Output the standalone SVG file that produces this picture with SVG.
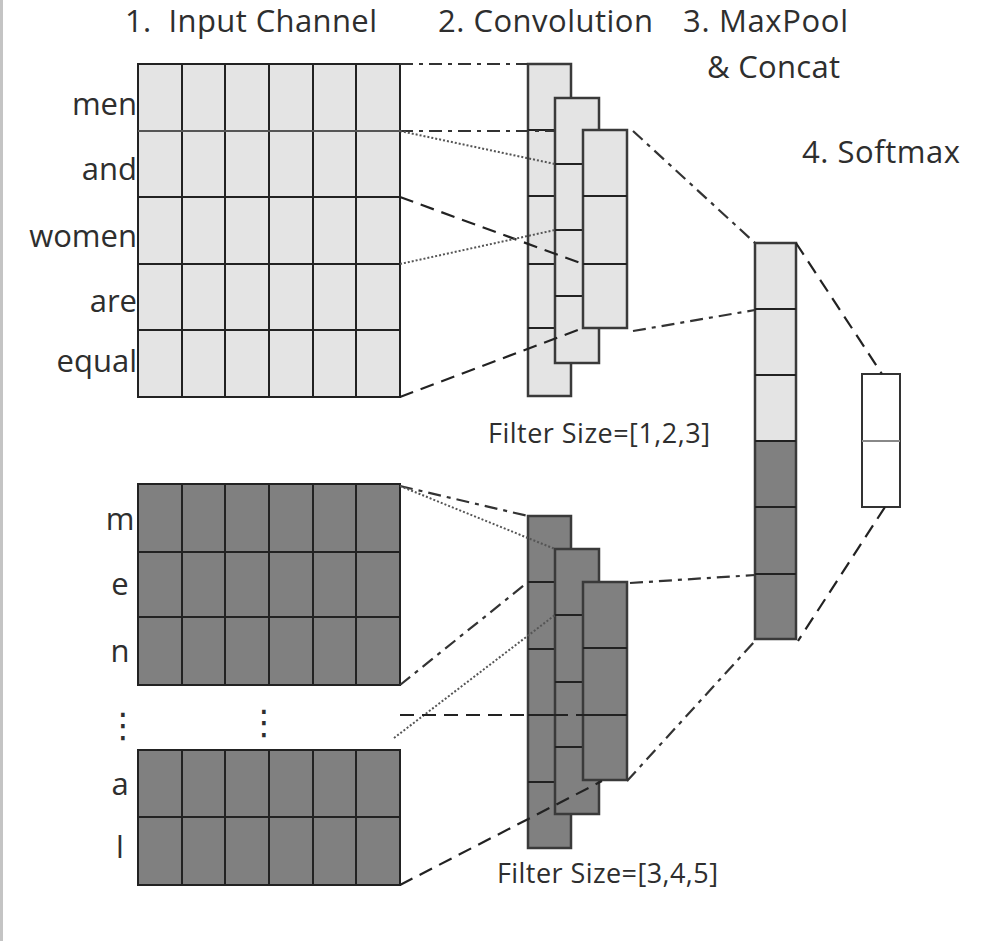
<svg xmlns="http://www.w3.org/2000/svg" width="986" height="941" viewBox="0 0 986 941">
<style>
  text { font-family: "Open Sans", "Liberation Sans", sans-serif; fill: #2e2e2e; }
  .hdr { font-size: 31px; }
  .lbl { font-size: 31px; }
  .cap { font-size: 27px; }
  .light { fill: #e4e4e4; }
  .dark { fill: #808080; }
  .cell { stroke: #222; stroke-width: 2; }
  .stk { stroke: #3a3a3a; stroke-width: 2.5; }
  .gl { stroke: #222; stroke-width: 2; fill: none; }
  .dash { stroke: #222; stroke-width: 2.2; fill: none; stroke-dasharray: 14 8; }
  .dashdot { stroke: #333; stroke-width: 2.2; fill: none; stroke-dasharray: 13 6 4 6; }
  .dot { stroke: #555; stroke-width: 2; fill: none; stroke-dasharray: 2 2; }
</style>
<rect x="0" y="0" width="986" height="941" fill="#ffffff"/>
<line x1="1.5" y1="0" x2="1.5" y2="941" stroke="#c4c4c4" stroke-width="3"/>

<!-- titles -->
<g id="titles">
  <text class="hdr" x="125" y="32" textLength="252" xml:space="preserve">1.  Input Channel</text>
  <text class="hdr" x="438" y="32" textLength="215">2. Convolution</text>
  <text class="hdr" x="683" y="32" textLength="165">3. MaxPool</text>
  <text class="hdr" x="707" y="78" textLength="133">&amp; Concat</text>
  <text class="hdr" x="802" y="163" textLength="158">4. Softmax</text>
</g>

<!-- input channel: words -->
<g id="input-words">
  <rect class="light cell" x="138" y="64" width="262" height="333"/>
  <path class="gl" d="M182,64V397M225,64V397M269,64V397M313,64V397M356,64V397M138,197H400M138,264H400M138,330H400"/>
  <path d="M138,131H400" stroke="#555" stroke-width="2"/>
  <text class="lbl" x="137" y="115" text-anchor="end">men</text>
  <text class="lbl" x="137" y="180" text-anchor="end">and</text>
  <text class="lbl" x="137" y="247" text-anchor="end">women</text>
  <text class="lbl" x="137" y="312" text-anchor="end">are</text>
  <text class="lbl" x="137" y="372" text-anchor="end">equal</text>
</g>

<!-- input channel: characters -->
<g id="input-chars">
  <rect class="dark cell" x="138" y="484" width="262" height="201"/>
  <path class="gl" d="M182,484V685M225,484V685M269,484V685M313,484V685M356,484V685M138,552H400M138,617H400"/>
  <rect class="dark cell" x="138" y="750" width="262" height="135"/>
  <path class="gl" d="M182,750V885M225,750V885M269,750V885M313,750V885M356,750V885M138,817H400"/>
  <text class="lbl" x="120" y="530" text-anchor="middle">m</text>
  <text class="lbl" x="120" y="595" text-anchor="middle">e</text>
  <text class="lbl" x="120" y="662" text-anchor="middle">n</text>
  <text class="lbl" x="120" y="795" text-anchor="middle">a</text>
  <text class="lbl" x="120" y="858" text-anchor="middle">l</text>
  <text x="123" y="737" text-anchor="middle" style="font-family:'DejaVu Sans',sans-serif;font-size:34px">⋮</text>
  <text x="264" y="734" text-anchor="middle" style="font-family:'DejaVu Sans',sans-serif;font-size:34px">⋮</text>
</g>

<!-- convolution, word filters -->
<g id="conv-words">
  <rect class="light stk" x="528" y="64" width="43" height="332"/>
  <path class="gl" d="M528,130H571M528,196H571M528,264H571M528,328H571"/>
  <rect class="light stk" x="555" y="98" width="44" height="265"/>
  <path class="gl" d="M555,164H599M555,230H599M555,296H599"/>
  <rect class="light stk" x="583" y="130" width="44" height="198"/>
  <path class="gl" d="M583,196H627M583,264H627"/>
  <text class="cap" x="488" y="443" textLength="222">Filter Size=[1,2,3]</text>
</g>

<!-- convolution, char filters -->
<g id="conv-chars">
  <rect class="dark stk" x="528" y="516" width="43" height="332"/>
  <path class="gl" d="M528,582H571M528,649H571M528,715H571M528,782H571"/>
  <rect class="dark stk" x="555" y="549" width="44" height="265"/>
  <path class="gl" d="M555,615H599M555,682H599M555,747H599"/>
  <rect class="dark stk" x="583" y="582" width="44" height="198"/>
  <path class="gl" d="M583,648H627M583,715H627"/>
  <text class="cap" x="497" y="883" textLength="221">Filter Size=[3,4,5]</text>
</g>

<!-- maxpool and concat -->
<g id="concat">
  <rect class="light" x="755" y="243" width="41" height="198"/>
  <rect class="dark" x="755" y="441" width="41" height="198"/>
  <rect x="755" y="243" width="41" height="396" fill="none" class="stk"/>
  <path class="gl" d="M755,309H796M755,375H796M755,441H796M755,507H796M755,574H796"/>
</g>

<!-- softmax -->
<g id="softmax">
  <rect x="862" y="374" width="38" height="133" fill="#ffffff" stroke="#333" stroke-width="2"/>
  <path d="M862,441H900" stroke="#888" stroke-width="2"/>
</g>

<!-- connectors -->
<g id="connectors">
  <path class="dashdot" d="M400,64L528,64"/>
  <path class="dashdot" d="M400,131L555,131"/>
  <path class="dot" d="M400,131L555,164"/>
  <path class="dash" d="M400,197L583,264"/>
  <path class="dot" d="M400,264L555,230"/>
  <path class="dash" d="M400,397L583,328"/>
  <path class="dashdot" d="M633,131L755,243"/>
  <path class="dashdot" d="M633,331L755,310"/>
  <path class="dash" d="M796,243L882,374"/>
  <path class="dash" d="M885,507L798,641"/>

  <path class="dashdot" d="M400,486L528,516"/>
  <path class="dot" d="M400,486L555,549"/>
  <path class="dashdot" d="M400,685L528,582"/>
  <path class="dot" d="M394,738L555,615"/>
  <path class="dash" d="M400,715L627,715"/>
  <path class="dash" d="M400,885L602,781"/>
  <path class="dashdot" d="M630,583L755,575"/>
  <path class="dashdot" d="M627,781L755,641"/>
</g>
</svg>
